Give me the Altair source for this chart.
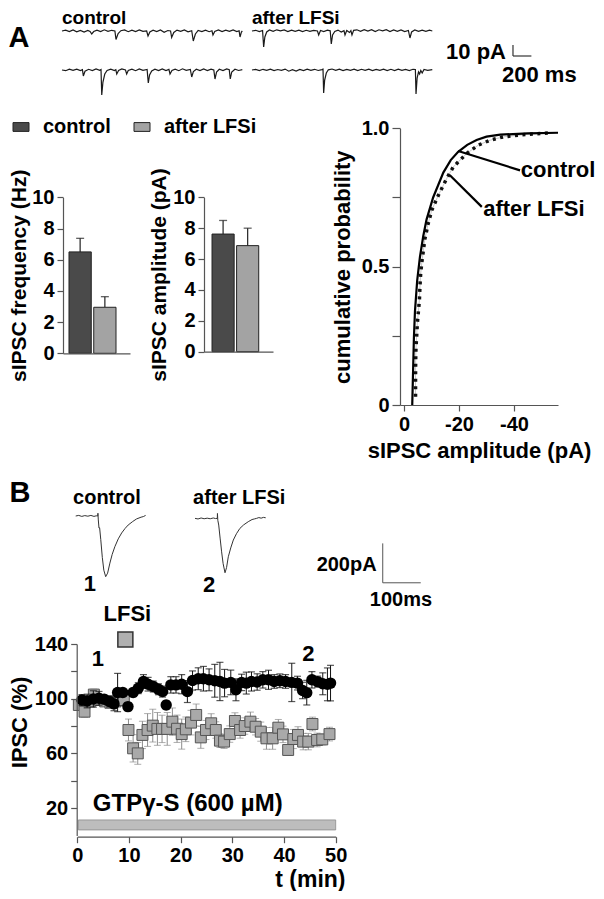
import altair as alt
import pandas as pd

FONT = "Liberation Sans"
M = 8
W, H = 588, 883
AX = "#555555"


def P(v):
    """reference-page pixel -> chart pixel"""
    return v - M


# ---------------- data ----------------
groups = ["control", "after LFSi"]
freq_mean = [6.5, 2.95]
freq_sem = [0.87, 0.68]
amp_mean = [7.62, 6.87]
amp_sem = [0.88, 1.13]

cum_ctrl_amp = [-3.0, -3.3, -3.6, -4.0, -4.8, -5.8, -7.0, -8.2, -10.6, -14.3, -17.0, -19.7, -23.0, -26.4, -30.0, -35.0, -45.0, -56.0]
cum_ctrl_p = [0.0, 0.12, 0.24, 0.34, 0.45, 0.535, 0.61, 0.67, 0.75, 0.84, 0.885, 0.915, 0.94, 0.958, 0.97, 0.977, 0.982, 0.984]
cum_lfs_amp = [-4.2, -4.2, -4.25, -4.35, -4.6, -4.85, -5.6, -5.8, -6.05, -6.5, -7.6, -8.8, -10.1, -12.5, -15.5, -17.9, -22.8, -27.0, -31.3, -36.1, -44.6, -53.0]
cum_lfs_p = [0.03, 0.108, 0.162, 0.205, 0.247, 0.295, 0.379, 0.427, 0.473, 0.517, 0.6, 0.656, 0.704, 0.758, 0.818, 0.86, 0.909, 0.939, 0.957, 0.969, 0.978, 0.983]

time_ctrl = [0.9, 1.9, 3.1, 4.2, 5.2, 6.2, 7.1, 7.8, 8.8, 9.8, 10.8, 11.8, 12.8, 13.7, 14.7, 15.7, 16.5, 17.2,
             18.1, 19.1, 20.2, 21.3, 22.3, 23.4, 24.4, 25.5, 26.6, 27.6, 28.5, 29.7, 30.7, 31.8, 32.7, 33.7,
             34.8, 35.9, 37.0, 38.1, 39.2, 40.3, 41.5, 42.6, 43.6, 44.4, 45.4, 46.5, 47.5, 48.4, 49.0]
ipsc_ctrl = [99.0, 98.3, 99.8, 100.3, 99.6, 97.9, 96.2, 104.5, 104.5, 94.2, 104.5, 107.7, 112.6, 110.6, 108.9,
             106.9, 105.2, 95.4, 110.1, 110.1, 110.6, 105.2, 113.3, 114.6, 114.6, 113.8, 113.1, 112.6, 111.4,
             111.9, 106.5, 111.9, 111.4, 112.6, 112.2, 113.8, 113.8, 112.6, 113.1, 112.6, 111.9, 111.4, 106.0,
             104.4, 113.8, 112.5, 110.9, 110.5, 111.4]
err_ctrl = [4, 5, 6, 5, 3, 4, 5, 14, 3, 3, 3, 4, 5, 5, 4, 4, 4, 3, 6, 6, 7, 8, 7, 8, 9, 8, 12, 14, 10, 9, 8, 6,
            8, 7, 6, 6, 7, 5, 5, 5, 14, 5, 6, 9, 6, 4, 8, 12, 13]

time_lfs = [0.3, 1.4, 2.4, 3.2, 4.4, 5.4, 6.4, 7.4, 8.4, 9.0, 9.9, 10.8, 11.7, 12.6, 13.6, 14.6, 15.5, 16.4,
            17.4, 18.4, 19.3, 20.2, 21.0, 22.0, 23.0, 23.9, 24.9, 25.9, 26.8, 27.6, 28.4, 29.5, 30.5, 31.5,
            32.4, 33.5, 34.5, 35.5, 36.6, 37.8, 38.9, 39.8, 40.8, 41.8, 42.7, 43.7, 44.7, 45.5, 46.4, 47.4, 48.8]
ipsc_lfs = [95.4, 90.5, 98.0, 103.0, 99.0, 98.0, 97.0, 98.0, 100.0, 99.0, 77.1, 63.7, 60.0, 73.5, 77.1, 80.3,
            77.9, 77.9, 77.9, 83.2, 78.0, 74.1, 77.6, 82.5, 88.1, 71.7, 77.1, 82.0, 77.1, 69.3, 68.6, 74.1,
            83.7, 77.1, 80.0, 83.2, 79.5, 75.9, 71.0, 71.0, 78.8, 73.9, 62.5, 70.5, 73.5, 68.6, 68.6, 81.5,
            69.8, 70.2, 74.1]
err_lfs = [3, 4, 3, 4, 3, 3, 3, 3, 3, 3, 8, 10, 8, 10, 12, 12, 12, 10, 12, 10, 10, 11, 9, 9, 8, 8, 7, 7, 6, 5,
           5, 6, 6, 6, 6, 7, 6, 7, 8, 8, 6, 6, 4, 7, 6, 6, 6, 5, 5, 4, 5]

lfsi_time = [9.3]
sample_times = [4.0, 44.7]
gtp_start, gtp_end = 0.2, 50.0

# spontaneous IPSC traces (ms, pA)
trace_ctrl_1 = [(0, 0), (40, 0.8), (80, -0.5), (120, 1), (160, -0.8), (200, 0.5), (240, -1), (280, 0.6), (305, -0.5),
                (323, -3), (345, -0.5), (380, 0.8), (420, -0.6), (460, 1.2), (500, -0.4), (540, 0.7), (575, 0),
                (587, -8.5), (610, -2.5), (640, 0.3), (680, 1), (720, -0.7), (760, 0.9), (800, -0.5), (840, 1.1),
                (880, -0.3), (920, 0), (935, -5), (955, -1), (990, 0.8), (1030, -0.6), (1070, 1), (1110, -1.2),
                (1150, 0.5), (1180, 0), (1192, -6.5), (1215, -1.5), (1250, 0.9), (1290, -0.4), (1330, 1),
                (1370, -0.8), (1410, 0.3), (1427, -10), (1450, -3), (1480, 0.6), (1520, -0.5), (1560, 0.9),
                (1600, -0.7), (1630, 0.2), (1641, -4), (1660, -0.5), (1700, 1), (1740, -0.6), (1780, 0.8),
                (1820, -0.4), (1860, 1.1), (1900, -0.5), (1925, 0.2), (1935, -6), (1950, -1), (1960, 0)]
trace_ctrl_2 = [(0, 0), (40, -0.7), (80, 0.9), (120, -0.4), (160, 0.8), (200, -0.6), (222, 0.3), (232, -6),
                (250, -1.2), (290, 0.7), (330, -0.5), (370, 1), (410, -0.3), (424, 0.4), (432, -25), (445, -12),
                (465, -4), (490, -0.5), (530, 0.9), (570, -0.6), (585, 0.3), (595, -4), (615, -0.4), (650, 1),
                (690, 0), (703, -4), (720, -0.5), (760, 0.8), (800, -0.7), (840, 1.1), (880, -0.4), (925, 0.5),
                (938, -13), (952, -5), (975, -1), (1010, 0.8), (1050, -0.6), (1090, 1), (1130, -0.5), (1162, 0.6),
                (1174, -4), (1195, -0.5), (1230, 0.9), (1270, -0.7), (1310, 1.2), (1350, -0.4), (1395, 0.6),
                (1410, -7), (1428, -1.5), (1460, 0.8), (1500, -0.6), (1540, 1), (1580, -0.5), (1620, 0.9),
                (1650, 0), (1663, -9), (1680, -2), (1710, 0.7), (1750, -0.5), (1790, 1), (1818, 0.2), (1829, -9),
                (1845, -2), (1880, 0.8), (1920, -0.5), (1960, 0.3)]
trace_lfs_1 = [(0, 0), (40, 0.7), (80, -0.6), (115, 0.5), (127, -16), (140, -6), (160, -1), (190, 1), (230, -0.4),
               (270, 1.2), (310, 0.2), (350, 1), (390, -0.5), (430, 0.9), (470, -0.3), (510, 0.8), (550, -0.6),
               (590, 0.7), (630, -0.4), (670, 0.6), (712, 0), (725, -4), (745, 0.5), (780, -0.5), (820, 0.8),
               (850, 0.2), (862, -13), (876, -4), (900, -0.5), (935, 0.9), (970, -1), (1000, 0.3), (1011, -4),
               (1030, 0.5), (1060, -1.5), (1075, 0.4), (1087, -4), (1105, 0.6), (1140, 1.2), (1180, -0.4),
               (1220, 1.3), (1260, 0), (1300, 1.4), (1340, -0.6), (1380, 1.2), (1420, 0.1), (1460, 1.3),
               (1500, -0.5), (1540, 1), (1580, -0.3), (1620, 1.1), (1660, -0.5), (1700, 0.6), (1717, -7),
               (1735, -1), (1770, 1), (1810, -0.4), (1850, 0.9), (1890, -0.3), (1930, 0.8), (1960, 0)]
trace_lfs_2 = [(0, 0), (40, 0.6), (80, -0.5), (120, 0.7), (160, -0.3), (200, 0.8), (240, -0.6), (280, 0.5),
               (320, -0.4), (360, 0.9), (400, -1.2), (440, 0.3), (480, -1), (520, 0.6), (560, -0.5), (600, 0.8),
               (640, -0.3), (680, 0.7), (720, -0.5), (760, 0.4), (772, 0.8), (779, -23), (790, -10), (808, -3),
               (830, 0.2), (870, 1), (910, -0.4), (950, 0.8), (990, -0.5), (1030, 0.6), (1070, -0.3), (1110, 0.9),
               (1150, -0.6), (1190, 0.7), (1230, -0.4), (1270, 0.8), (1310, -0.5), (1350, 0.6), (1390, -0.3),
               (1430, 0.9), (1470, -0.6), (1510, 0.7), (1550, -0.5), (1590, 0.8), (1630, -0.3), (1670, 0.6),
               (1710, -0.5), (1750, 0.7), (1776, 0.5), (1783, -24), (1795, -8), (1810, -2), (1822, -4),
               (1835, -0.5), (1850, -3), (1870, 0.5), (1910, -0.4), (1960, 0.3)]

# evoked IPSC traces (ms, pA)
evoked_ctrl = [(0, 0), (8, 3), (16, -2), (24, 2), (32, -1), (40, 3), (48, -2), (54, 1), (58, 0), (58.5, 14),
               (59.5, -20), (61.3, -61), (63, -60), (66, -120), (70, -210), (74, -275), (78.9, -308), (84, -290),
               (90, -239), (96, -195), (103, -156), (112, -116), (121, -86), (130, -63), (138, -46), (150, -28),
               (160, -15), (172, -6), (178, -3), (184, 3)]
evoked_lfs = [(0, 0), (8, -3), (16, 2), (24, -2), (32, 1), (40, -2), (48, 2), (54, -1), (58.7, 0), (59, 25),
              (60, -10), (62.4, -34), (66, -100), (70, -170), (74, -230), (78.9, -276), (83, -250), (87.6, -195),
              (94, -150), (100.8, -110), (109, -78), (118, -51), (128, -33), (140, -17), (150, -6), (156, -3),
              (162, 0), (168, 4), (174, 1), (180, 5), (186, 3)]


# ---------------- helpers ----------------
def txt(**kw):
    base = dict(font=FONT, fontWeight="bold", color="black")
    base.update(kw)
    return base


def y_axis(x_ref, values, title, title_size=21, label_expr=None, tick=6, title_pad=4, label_size=20, **extra):
    kw = dict(orient="left", offset=-P(x_ref), values=values, tickSize=tick, grid=False, zindex=2,
              domainColor=AX, domainWidth=1.2, tickColor=AX, tickWidth=1.2, labelOverlap=False,
              labelFont=FONT, labelFontSize=label_size, labelFontWeight="bold", labelColor="black",
              labelPadding=3, title=title, titleFont=FONT, titleFontSize=title_size,
              titleFontWeight="bold", titleColor="black", titlePadding=title_pad)
    if label_expr:
        kw["labelExpr"] = label_expr
    kw.update(extra)
    return alt.Axis(**kw)


def x_axis(y_ref, values=None, title=None, labels=True, ticks=True, tick=6, title_size=22, title_pad=4, **extra):
    kw = dict(orient="bottom", offset=P(y_ref) - H, grid=False, zindex=2, domainColor=AX, domainWidth=1.2,
              tickColor=AX, tickWidth=1.2, tickSize=tick, labels=labels, ticks=ticks, labelOverlap=False,
              labelFlush=False, labelFont=FONT, labelFontSize=20, labelFontWeight="bold", labelColor="black",
              labelPadding=3, titleFont=FONT, titleFontSize=title_size, titleFontWeight="bold",
              titleColor="black", titlePadding=title_pad)
    if values is not None:
        kw["values"] = values
    kw["title"] = title
    kw.update(extra)
    return alt.Axis(**kw)


LEG = alt.Legend(title=None, orient="none", legendX=P(11), legendY=P(117), direction="horizontal",
                 symbolType="M-1,-0.55H1V0.55H-1Z", symbolSize=256, symbolStrokeColor="#222222",
                 symbolStrokeWidth=1, symbolOpacity=1, labelFont=FONT, labelFontSize=20, labelFontWeight="bold",
                 labelColor="black", labelOffset=12, columnPadding=21, padding=0, labelLimit=400)
COLOR_SCALE = alt.Scale(domain=groups, range=["#4a4a4a", "#a3a3a3"])

layers = []

# ---------------- panel A: traces ----------------
rows = []
for name, pts, dx, dy in [("c1", trace_ctrl_1, 0, 0), ("c2", trace_ctrl_2, 0, -39),
                          ("a1", trace_lfs_1, 2065, 0), ("a2", trace_lfs_2, 2065, -39)]:
    for i, (t, v) in enumerate(pts):
        rows.append({"trace": name, "i": i, "t": t + dx, "v": v + dy})
traces_df = pd.DataFrame(rows)
SXA = alt.Scale(domain=[0, 5500], range=[P(62), P(62) + 5500 * 0.092], nice=False, zero=False)
SYA = alt.Scale(domain=[-60, 20], range=[P(31) + 60, P(31) - 20], nice=False, zero=False)


def XA(f):
    return alt.X(f, scale=SXA, axis=None)


def YA(f):
    return alt.Y(f, scale=SYA, axis=None)


layers.append(alt.Chart(traces_df).mark_line(color="#1a1a1a", strokeWidth=1.2).encode(
    x=XA("t:Q"), y=YA("v:Q"), detail="trace:N", order="i:Q"))
sbA = pd.DataFrame({"x": [4902, 4902], "x2": [4902, 5102], "y": [-14, -25], "y2": [-25, -25]})
layers.append(alt.Chart(sbA).mark_rule(color="#333333", strokeWidth=1.2).encode(
    x=XA("x:Q"), x2="x2:Q", y=YA("y:Q"), y2="y2:Q"))
labA = pd.DataFrame({"t": [0, 2065], "v": [13.5, 13.5], "s": ["control", "after LFSi"]})
layers.append(alt.Chart(labA).mark_text(align="left", baseline="middle", fontSize=19, **txt()).encode(
    x=XA("t:Q"), y=YA("v:Q"), text="s:N"))
layers.append(alt.Chart(pd.DataFrame({"t": [4826], "v": [-21], "s": ["10 pA"]})).mark_text(
    align="right", baseline="middle", fontSize=22, **txt()).encode(x=XA("t:Q"), y=YA("v:Q"), text="s:N"))
layers.append(alt.Chart(pd.DataFrame({"t": [4783], "v": [-44], "s": ["200 ms"]})).mark_text(
    align="left", baseline="middle", fontSize=22, **txt()).encode(x=XA("t:Q"), y=YA("v:Q"), text="s:N"))


# ---------------- panel A: bars ----------------
def bar_panel(mean, sem, title, y_bottom, x_axis_ref, x_end_ref, pad_outer, align, title_pad):
    df = pd.DataFrame({"group": groups, "mean": mean, "hi": [m + e for m, e in zip(mean, sem)]})
    sx = alt.Scale(type="band", domain=groups, range=[P(x_axis_ref), P(x_end_ref)], paddingInner=0.1,
                   paddingOuter=pad_outer, align=align)
    sy = alt.Scale(domain=[0, 10], range=[P(y_bottom), P(197.3)], nice=False, zero=True)
    base = alt.Chart(df)
    err = base.mark_rule(color="#222222", strokeWidth=1.2).encode(
        x=alt.X("group:N", scale=sx, sort=groups, axis=None),
        y=alt.Y("mean:Q", scale=sy, axis=None), y2="hi:Q")
    cap = base.mark_tick(orient="horizontal", size=8, thickness=1.3, color="#222222").encode(
        x=alt.X("group:N", scale=sx, sort=groups, axis=None),
        y=alt.Y("hi:Q", scale=sy, axis=None))
    bars = base.mark_bar(stroke="#222222", strokeWidth=1).encode(
        x=alt.X("group:N", scale=sx, sort=groups, axis=x_axis(y_bottom, labels=False, ticks=False, title=None)),
        y=alt.Y("mean:Q", scale=sy, axis=y_axis(x_axis_ref, [0, 2, 4, 6, 8, 10], title, title_pad=title_pad)),
        color=alt.Color("group:N", scale=COLOR_SCALE, sort=groups, legend=LEG))
    return [err, cap, bars]


layers += bar_panel(freq_mean, freq_sem, "sIPSC frequency (Hz)", 353.3, 63, 130, 0.404, 0.3, 2)
layers += bar_panel(amp_mean, amp_sem, "sIPSC amplitude (pA)", 351.7, 204, 273, 0.4536, 0.36, 3)

# ---------------- panel A: cumulative probability ----------------
SXC = alt.Scale(domain=[1.45, -56], range=[P(400), P(558)], nice=False, zero=False)
SYC = alt.Scale(domain=[0, 1], range=[P(405), P(128.3)], nice=False, zero=False)


def XC(f, axis=None):
    return alt.X(f, scale=SXC, axis=axis)


def YC(f, axis=None):
    return alt.Y(f, scale=SYC, axis=axis)


cum_c = pd.DataFrame({"amp": cum_ctrl_amp, "p": cum_ctrl_p, "i": range(len(cum_ctrl_p))})
cum_l = pd.DataFrame({"amp": cum_lfs_amp, "p": cum_lfs_p, "i": range(len(cum_lfs_p))})
layers.append(alt.Chart(cum_l).mark_line(color="#c8c8c8", strokeWidth=1).encode(
    x=XC("amp:Q"), y=YC("p:Q"), order="i:Q"))
layers.append(alt.Chart(cum_l).mark_line(color="#111111", strokeWidth=3.5, strokeDash=[3, 4.5],
                                         strokeCap="butt").encode(x=XC("amp:Q"), y=YC("p:Q"), order="i:Q"))
layers.append(alt.Chart(cum_c).mark_line(color="#000000", strokeWidth=2.2).encode(
    x=XC("amp:Q", axis=x_axis(405, values=[0, -20, -40], title="sIPSC amplitude (pA)", title_size=22,
                              title_pad=6, labelExpr="'' + datum.value")),
    y=YC("p:Q", axis=y_axis(400, [0, 0.25, 0.5, 0.75, 1], "cumulative probability", title_size=22, tick=8,
                            title_pad=7,
                            label_expr="datum.value == 0 ? '0' : datum.value == 0.5 ? '0.5' : datum.value == 1 ? '1.0' : ''")),
    order="i:Q"))
ann = pd.DataFrame({"x": [-19.7, -16.7], "x2": [-42.2, -28.3], "y": [0.918, 0.83], "y2": [0.848, 0.716]})
layers.append(alt.Chart(ann).mark_rule(color="#000000", strokeWidth=2.2).encode(
    x=XC("x:Q"), x2="x2:Q", y=YC("y:Q"), y2="y2:Q"))
ann_lab = pd.DataFrame({"x": [-42.5, -28.8], "y": [0.848, 0.71], "s": ["control", "after LFSi"]})
layers.append(alt.Chart(ann_lab).mark_text(align="left", baseline="middle", fontSize=22, **txt()).encode(
    x=XC("x:Q"), y=YC("y:Q"), text="s:N"))

# ---------------- panel B: evoked traces ----------------
rows = []
for name, pts, dx, dy in [("ctrl", evoked_ctrl, 0, 0), ("lfs", evoked_lfs, 314, -12)]:
    for i, (t, v) in enumerate(pts):
        rows.append({"trace": name, "i": i, "t": t + dx, "v": v + dy})
ev_df = pd.DataFrame(rows)
SXE = alt.Scale(domain=[0, 1000], range=[P(75.7), P(75.7) + 380], nice=False, zero=False)
SYE = alt.Scale(domain=[-450, 100], range=[P(516) + 88.65, P(516) - 19.7], nice=False, zero=False)


def XE(f):
    return alt.X(f, scale=SXE, axis=None)


def YE(f):
    return alt.Y(f, scale=SYE, axis=None)


layers.append(alt.Chart(ev_df).mark_line(color="#333333", strokeWidth=1).encode(
    x=XE("t:Q"), y=YE("v:Q"), detail="trace:N", order="i:Q"))
sbB = pd.DataFrame({"x": [808, 808], "x2": [808, 908], "y": [-139, -339], "y2": [-339, -339]})
layers.append(alt.Chart(sbB).mark_rule(color="#555555", strokeWidth=1).encode(
    x=XE("x:Q"), x2="x2:Q", y=YE("y:Q"), y2="y2:Q"))
labB = pd.DataFrame({"t": [-7, 309], "v": [90, 90], "s": ["control", "after LFSi"]})
layers.append(alt.Chart(labB).mark_text(align="left", baseline="middle", fontSize=20, **txt()).encode(
    x=XE("t:Q"), y=YE("v:Q"), text="s:N"))
numB = pd.DataFrame({"t": [37.6, 351], "v": [-345, -350], "s": ["1", "2"]})
layers.append(alt.Chart(numB).mark_text(align="center", baseline="middle", fontSize=22, **txt()).encode(
    x=XE("t:Q"), y=YE("v:Q"), text="s:N"))
layers.append(alt.Chart(pd.DataFrame({"t": [792], "v": [-249], "s": ["200pA"]})).mark_text(
    align="right", baseline="middle", fontSize=20, **txt()).encode(x=XE("t:Q"), y=YE("v:Q"), text="s:N"))
layers.append(alt.Chart(pd.DataFrame({"t": [774], "v": [-426], "s": ["100ms"]})).mark_text(
    align="left", baseline="middle", fontSize=20, **txt()).encode(x=XE("t:Q"), y=YE("v:Q"), text="s:N"))

# ---------------- panel B: time course ----------------
SXT = alt.Scale(domain=[0, 50], range=[P(77.3), P(335.7)], nice=False, zero=False)
SYT = alt.Scale(domain=[0, 140], range=[P(835.4), P(644)], nice=False, zero=False)
tc_c = pd.DataFrame({"t": time_ctrl, "v": ipsc_ctrl,
                     "lo": [v - e for v, e in zip(ipsc_ctrl, err_ctrl)],
                     "hi": [v + e for v, e in zip(ipsc_ctrl, err_ctrl)]})
tc_l = pd.DataFrame({"t": time_lfs, "v": ipsc_lfs,
                     "lo": [v - e for v, e in zip(ipsc_lfs, err_lfs)],
                     "hi": [v + e for v, e in zip(ipsc_lfs, err_lfs)]})


def XT(field, axis=None):
    return alt.X(field, scale=SXT, axis=axis)


def YT(field, axis=None):
    return alt.Y(field, scale=SYT, axis=axis)


layers.append(alt.Chart(pd.DataFrame({"t0": [gtp_start], "t1": [gtp_end]})).mark_rect(
    fill="#bdbdbd", stroke="#8a8a8a", strokeWidth=0.8).encode(
    x=XT("t0:Q", axis=x_axis(836.7, values=[0, 10, 20, 30, 40, 50], title="t (min)", title_size=23,
                             titleX=P(345), titleY=43, titleAlign="right", titleBaseline="middle",
                             titleAnchor="end")),
    x2="t1:Q",
    y=YT("lo:Q", axis=y_axis(76.7, [20, 40, 60, 80, 100, 120, 140], "IPSC (%)", title_size=22, title_pad=6,
                              label_expr="datum.value % 40 == 20 ? datum.label : ''",
                              titleX=19 - P(76.7), titleY=P(722), titleBaseline="alphabetic",
                              titleAlign="center", titleAngle=270)),
    y2="hi:Q").transform_calculate(lo="4", hi="11.3"))
for df, col, th in [(tc_l, "#8c8c8c", 1.0), (tc_c, "#111111", 1.2)]:
    layers.append(alt.Chart(df).mark_rule(color=col, strokeWidth=1).encode(x=XT("t:Q"), y=YT("lo:Q"), y2="hi:Q"))
    layers.append(alt.Chart(df).mark_tick(orient="horizontal", size=7, thickness=th, color=col).encode(
        x=XT("t:Q"), y=YT("lo:Q")))
    layers.append(alt.Chart(df).mark_tick(orient="horizontal", size=7, thickness=th, color=col).encode(
        x=XT("t:Q"), y=YT("hi:Q")))
    if df is tc_l:
        layers.append(alt.Chart(df).mark_square(size=120, fill="#a9a9a9", stroke="#555555", strokeWidth=1,
                                                opacity=1).encode(x=XT("t:Q"), y=YT("v:Q")))
    else:
        layers.append(alt.Chart(df).mark_circle(size=130, color="#000000", opacity=1).encode(
            x=XT("t:Q"), y=YT("v:Q")))
layers.append(alt.Chart(pd.DataFrame({"t": lfsi_time})).mark_square(
    size=225, fill="#b0b0b0", stroke="#333333", strokeWidth=1.5, opacity=1).encode(
    x=XT("t:Q"), y=alt.Y(datum=143.3, scale=SYT, axis=None)))
layers.append(alt.Chart(pd.DataFrame({"t": lfsi_time, "s": ["LFSi"]})).mark_text(
    align="center", baseline="middle", fontSize=22, dx=2, **txt()).encode(
    x=XT("t:Q"), y=alt.Y(datum=162, scale=SYT, axis=None), text="s:N"))
layers.append(alt.Chart(pd.DataFrame({"t": sample_times, "v": [128.7, 133], "s": ["1", "2"]})).mark_text(
    align="center", baseline="middle", fontSize=22, **txt()).encode(x=XT("t:Q"), y=YT("v:Q"), text="s:N"))
layers.append(alt.Chart(pd.DataFrame({"t": [3.0], "v": [17.8], "s": ["GTPγ-S (600 µM)"]})).mark_text(
    align="left", baseline="alphabetic", fontSize=24, **txt()).encode(x=XT("t:Q"), y=YT("v:Q"), text="s:N"))

# ---------------- panel letters ----------------
layers.append(alt.Chart(pd.DataFrame({"s": ["A"]})).mark_text(
    align="center", baseline="middle", fontSize=29, **txt()).encode(
    x=alt.value(P(19)), y=alt.value(P(38)), text="s:N"))
layers.append(alt.Chart(pd.DataFrame({"s": ["B"]})).mark_text(
    align="center", baseline="middle", fontSize=29, **txt()).encode(
    x=alt.value(P(20)), y=alt.value(P(493)), text="s:N"))

chart = alt.layer(*layers).resolve_scale(x="independent", y="independent").properties(
    width=W, height=H, autosize=alt.AutoSizeParams(type="none"), padding=0
).configure(font=FONT).configure_view(stroke=None)

chart.save("out.html", embed_options={"renderer": "svg", "actions": False})
